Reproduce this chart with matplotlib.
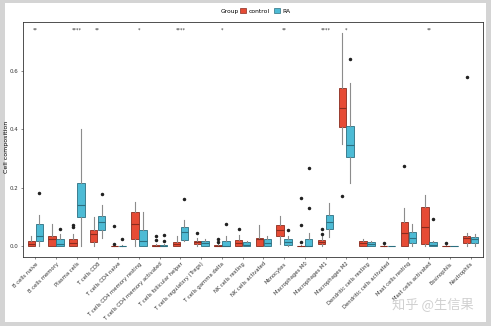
import numpy as np
import matplotlib
matplotlib.use("Agg")
import matplotlib.pyplot as plt
from matplotlib.patches import Patch, Rectangle

cells = ["B cells naive", "B cells memory", "Plasma cells", "T cells CD8",
         "T cells CD4 naive", "T cells CD4 memory resting",
         "T cells CD4 memory activated", "T cells follicular helper",
         "T cells regulatory (Tregs)", "T cells gamma delta", "NK cells resting",
         "NK cells activated", "Monocytes", "Macrophages M0", "Macrophages M1",
         "Macrophages M2", "Dendritic cells resting", "Dendritic cells activated",
         "Mast cells resting", "Mast cells activated", "Eosinophils", "Neutrophils"]

# control: whisker low, q1, median, q3, whisker high
ctrl_lo  = [0.0, 0.0, 0.0, 0.003, 0.0, 0.0, 0.0, 0.0, 0.0, 0.0, 0.0, 0.0, 0.010, 0.0, 0.0, 0.348, 0.0, 0.0, 0.0, 0.0, 0.0, 0.003]
ctrl_q1  = [0.003, 0.003, 0.003, 0.016, 0.0, 0.024, 0.0, 0.002, 0.007, 0.0, 0.001, 0.001, 0.037, 0.0, 0.008, 0.407, 0.001, 0.0, 0.001, 0.007, 0.0, 0.012]
ctrl_med = [0.010, 0.024, 0.012, 0.041, 0.001, 0.075, 0.002, 0.008, 0.015, 0.001, 0.012, 0.024, 0.056, 0.001, 0.015, 0.473, 0.012, 0.001, 0.047, 0.065, 0.001, 0.030]
ctrl_q3  = [0.020, 0.035, 0.024, 0.055, 0.003, 0.118, 0.006, 0.016, 0.020, 0.004, 0.021, 0.030, 0.072, 0.003, 0.022, 0.541, 0.018, 0.002, 0.085, 0.135, 0.002, 0.037]
ctrl_hi  = [0.035, 0.078, 0.041, 0.100, 0.006, 0.151, 0.010, 0.035, 0.030, 0.008, 0.040, 0.072, 0.103, 0.005, 0.035, 0.728, 0.024, 0.004, 0.132, 0.177, 0.004, 0.047]
ctrl_out = [[], [], [0.067, 0.072], [], [0.010, 0.069], [], [0.022, 0.035], [], [0.047],
            [0.015, 0.024], [0.058], [], [], [0.015, 0.072, 0.166], [0.041, 0.058],
            [0.172], [], [0.012], [0.276], [], [0.012], [0.58]]

# RA
ra_lo  = [0.0, 0.0, 0.0, 0.030, 0.0, 0.0, 0.0, 0.017, 0.0, 0.0, 0.0, 0.0, 0.0, 0.0, 0.033, 0.217, 0.0, 0.0, 0.0, 0.0, 0.0, 0.0]
ra_q1  = [0.018, 0.001, 0.101, 0.056, 0.0, 0.003, 0.0, 0.022, 0.003, 0.001, 0.0, 0.001, 0.006, 0.0, 0.060, 0.305, 0.001, 0.0, 0.012, 0.001, 0.0, 0.012]
ra_med = [0.037, 0.010, 0.142, 0.085, 0.001, 0.018, 0.002, 0.050, 0.012, 0.003, 0.005, 0.012, 0.015, 0.003, 0.085, 0.345, 0.009, 0.001, 0.030, 0.006, 0.001, 0.024]
ra_q3  = [0.075, 0.024, 0.215, 0.103, 0.002, 0.056, 0.006, 0.067, 0.019, 0.020, 0.015, 0.024, 0.024, 0.024, 0.106, 0.410, 0.015, 0.002, 0.049, 0.015, 0.002, 0.033]
ra_hi  = [0.109, 0.041, 0.400, 0.143, 0.004, 0.117, 0.010, 0.089, 0.025, 0.035, 0.020, 0.037, 0.035, 0.047, 0.149, 0.558, 0.020, 0.003, 0.078, 0.020, 0.003, 0.041]
ra_out = [[0.183], [0.061], [], [0.18], [0.024], [], [0.018, 0.038], [0.163], [], [0.075],
          [], [], [0.056], [0.13, 0.268], [], [0.64], [], [], [], [0.095], [], []]

sig_pos = [0, 2, 3, 5, 7, 9, 12, 14, 15, 19]
sig_lab = ["**", "****", "**", "*", "****", "*", "**", "****", "*", "**"]

red, blue = "#E64B35", "#4DBBD5"
red_edge, blue_edge = "#8a2c1f", "#2c6f80"


def stats(lo, q1, med, q3, hi, out):
    return [dict(whislo=a, q1=b, med=c, q3=d, whishi=e, fliers=f)
            for a, b, c, d, e, f in zip(lo, q1, med, q3, hi, out)]


fig = plt.figure(figsize=(4.91, 3.26), dpi=100)
fig.patch.set_facecolor("#d4d4d4")
fig.patches.append(Rectangle((5 / 491, 4 / 326), 481 / 491, 319 / 326,
                             transform=fig.transFigure, facecolor="white",
                             edgecolor="none", zorder=-10))
ax = fig.add_axes([23 / 491, 1 - 257 / 326, 460 / 491, 235 / 326])
ax.set_zorder(1)

x = np.arange(len(cells))
for st, pos, fc, ec in [(stats(ctrl_lo, ctrl_q1, ctrl_med, ctrl_q3, ctrl_hi, ctrl_out), x - 0.19, red, red_edge),
                        (stats(ra_lo, ra_q1, ra_med, ra_q3, ra_hi, ra_out), x + 0.19, blue, blue_edge)]:
    ax.bxp(st, positions=pos, widths=0.36, patch_artist=True, showcaps=False,
           boxprops=dict(facecolor=fc, edgecolor=ec, linewidth=0.6),
           medianprops=dict(color=ec, linewidth=0.8),
           whiskerprops=dict(color="#8c8c8c", linewidth=0.8),
           flierprops=dict(marker="o", markersize=1.5, markerfacecolor="#222222",
                           markeredgecolor="#222222"))

for p, s in zip(sig_pos, sig_lab):
    ax.text(p, 0.738, s, ha="center", va="center", fontsize=3.5, color="#333333")

ax.set_xlim(-0.6, len(cells) - 0.4)
ax.set_ylim(-0.036, 0.766)
ax.set_xticks(x)
ax.set_xticklabels(cells, rotation=45, ha="right", rotation_mode="anchor",
                   fontsize=3.8, color="#333333")
ax.set_yticks([0.0, 0.2, 0.4, 0.6])
ax.set_yticklabels(["0.0", "0.2", "0.4", "0.6"], fontsize=4, color="#333333")
ax.tick_params(length=1.5, width=0.4, pad=1.5, colors="#333333")
ax.set_ylabel("Cell composition", fontsize=4.5)
ax.yaxis.set_label_coords(-0.03, 0.47)
for sp in ax.spines.values():
    sp.set_linewidth(0.6)
    sp.set_color("#333333")

fig.text(221 / 491, 1 - 11 / 326, "Group", fontsize=4.3, va="center")
handles = [Patch(facecolor=red, edgecolor=red_edge, linewidth=0.5),
           Patch(facecolor=blue, edgecolor=blue_edge, linewidth=0.5)]
fig.legend(handles, ["control", "RA"], loc="center left", ncol=2,
           bbox_to_anchor=(240 / 491, 1 - 11 / 326), frameon=False, fontsize=4.3,
           handlelength=1.0, handleheight=1.0, handletextpad=0.4, columnspacing=0.8,
           borderaxespad=0, borderpad=0)

fig.text(433 / 491, 1 - 305 / 326, "知乎 @生信果", fontsize=9.5, color="#d0d0d0",
         ha="center", va="center", family=["Noto Sans CJK SC", "DejaVu Sans"])

fig.savefig("out.png", dpi=100)
